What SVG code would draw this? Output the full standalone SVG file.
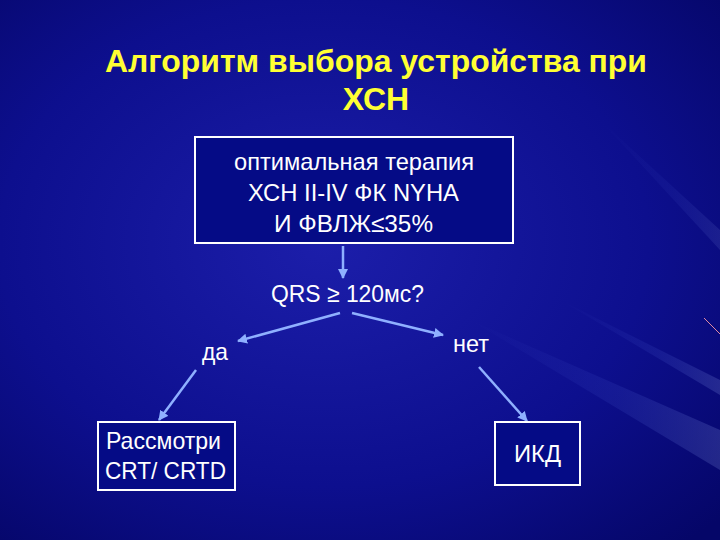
<svg xmlns="http://www.w3.org/2000/svg" width="720" height="540" viewBox="0 0 720 540">
<defs>
<radialGradient id="bg" cx="0.45" cy="0.45" r="0.75">
<stop offset="0" stop-color="#1c1eaa"/>
<stop offset="0.6" stop-color="#0d0f8e"/>
<stop offset="1" stop-color="#050668"/>
</radialGradient>
<linearGradient id="streak" x1="0" y1="0" x2="1" y2="0">
<stop offset="0" stop-color="#6f8cff" stop-opacity="0"/>
<stop offset="0.6" stop-color="#6f8cff" stop-opacity="0.2"/>
<stop offset="1" stop-color="#a8bcff" stop-opacity="0.35"/>
</linearGradient>
<marker id="ah" viewBox="0 0 10 10" refX="9" refY="5" markerWidth="4" markerHeight="4" orient="auto">
<path d="M0,0 L10,5 L0,10 z" fill="#8fb0ff"/>
</marker>
<style>
.box{fill:#050b86;stroke:#ffffff;stroke-width:2}
.t{font-family:"Liberation Sans",Arial,sans-serif;fill:#ffffff;font-size:24px}
.title{font-family:"Liberation Sans",Arial,sans-serif;font-weight:bold;fill:#ffff33;font-size:32px;text-anchor:middle}
.c{stroke:#8fb0ff;stroke-width:2.5;fill:none;marker-end:url(#ah)}
</style>
</defs>
<rect width="720" height="540" fill="url(#bg)"/>
<g id="background-streaks">
<path d="M470,320 L720,430 L720,470 Z" fill="url(#streak)" opacity="0.5"/>
<path d="M560,300 L720,380 L720,395 Z" fill="url(#streak)" opacity="0.5"/>
<path d="M600,120 L720,230 L720,250 Z" fill="url(#streak)" opacity="0.3"/>
<line x1="704" y1="318" x2="720" y2="334" stroke="#e08aa0" stroke-width="1"/>
</g>
<g id="title">
<text class="title" x="376" y="72" textLength="542" lengthAdjust="spacingAndGlyphs">Алгоритм выбора устройства при</text>
<text class="title" x="376" y="110">ХСН</text>
</g>
<g id="connectors">
<line class="c" x1="343" y1="246" x2="343" y2="278"/>
<line class="c" x1="340" y1="313" x2="238" y2="341"/>
<line class="c" x1="352" y1="313" x2="443" y2="335"/>
<line class="c" x1="196" y1="370" x2="159" y2="420"/>
<line class="c" x1="479" y1="367" x2="527" y2="421"/>
</g>
<g id="node-therapy">
<rect class="box" x="195" y="137" width="318" height="106"/>
<text class="t" x="234" y="170" textLength="240" lengthAdjust="spacingAndGlyphs">оптимальная терапия</text>
<text class="t" x="248" y="201" textLength="211" lengthAdjust="spacingAndGlyphs">ХСН II-IV ФК NYHA</text>
<text class="t" x="274" y="232" textLength="159" lengthAdjust="spacingAndGlyphs">И ФВЛЖ≤35%</text>
</g>
<g id="node-qrs">
<text class="t" x="271" y="302" textLength="153" lengthAdjust="spacingAndGlyphs">QRS ≥ 120мс?</text>
</g>
<g id="node-yes">
<text class="t" x="202" y="360" textLength="26" lengthAdjust="spacingAndGlyphs">да</text>
</g>
<g id="node-no">
<text class="t" x="453" y="352" textLength="36" lengthAdjust="spacingAndGlyphs">нет</text>
</g>
<g id="node-crt">
<rect class="box" x="98" y="422" width="137" height="68"/>
<text class="t" x="106" y="449" textLength="115" lengthAdjust="spacingAndGlyphs">Рассмотри</text>
<text class="t" x="105" y="479" textLength="121" lengthAdjust="spacingAndGlyphs">CRT/ CRTD</text>
</g>
<g id="node-icd">
<rect class="box" x="495" y="422" width="85" height="63"/>
<text class="t" x="514" y="462" textLength="47" lengthAdjust="spacingAndGlyphs">ИКД</text>
</g>
</svg>
